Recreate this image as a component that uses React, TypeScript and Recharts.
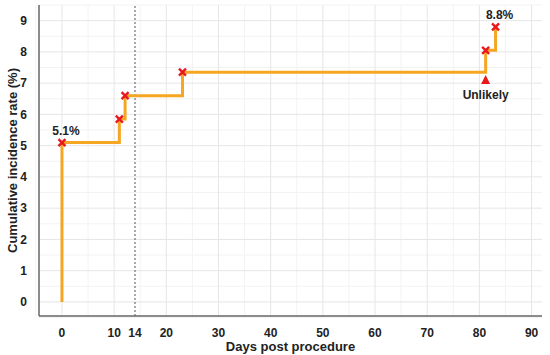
import {
  ComposedChart,
  Line,
  Scatter,
  XAxis,
  YAxis,
  CartesianGrid,
  ReferenceLine,
  ReferenceDot,
} from "recharts";

// event days and cumulative incidence (%)
const days = [0, 0, 11, 12.1, 23.1, 81.2, 83.1];
const rates = [0, 5.1, 5.85, 6.6, 7.35, 8.05, 8.8];

const xTicks = [0, 10, 14, 20, 30, 40, 50, 60, 70, 80, 90];
const xMajorGrid = [0, 10, 20, 30, 40, 50, 60, 70, 80, 90];
const xMinorGrid = [-5, 5, 15, 25, 35, 45, 55, 65, 75, 85];
const yTicks = [0, 1, 2, 3, 4, 5, 6, 7, 8, 9];
const yMinorGrid = [-0.5, 0.5, 1.5, 2.5, 3.5, 4.5, 5.5, 6.5, 7.5, 8.5, 9.5];

const curve = days.map((d, i) => ({ x: d, y: rates[i] }));
const events = curve.slice(1);

const FONT = "'Liberation Sans', Arial, sans-serif";
const ORANGE = "#f5a623";
const RED = "#e8191e";

const Cross = (props: any) => {
  const { cx, cy } = props;
  const s = 3.5;
  return (
    <g stroke={RED} strokeWidth={2.4}>
      <line x1={cx - s} y1={cy - s} x2={cx + s} y2={cy + s} />
      <line x1={cx - s} y1={cy + s} x2={cx + s} y2={cy - s} />
    </g>
  );
};

const Triangle = (props: any) => {
  const { cx, cy } = props;
  return (
    <g>
      <polygon points={`${cx},${cy - 5} ${cx - 4.5},${cy + 4} ${cx + 4.5},${cy + 4}`} fill={RED} />
      <text
        x={cx}
        y={cy + 19}
        textAnchor="middle"
        fontFamily={FONT}
        fontWeight="bold"
        fontSize={12}
        fill="#222"
      >
        Unlikely
      </text>
    </g>
  );
};

const PctLabel = (props: any) => {
  const { cx, cy, text } = props;
  return (
    <text
      x={cx + 4}
      y={cy - 8}
      textAnchor="middle"
      fontFamily={FONT}
      fontWeight="bold"
      fontSize={12}
      fill="#222"
    >
      {text}
    </text>
  );
};

export default function App() {
  const tick = { fill: "#222", fontSize: 12, fontWeight: "bold", fontFamily: FONT };
  return (
    <div style={{ position: "absolute", left: 0, top: 0, background: "#fff" }}>
      <ComposedChart width={550} height={355} margin={{ top: 5, right: 8, bottom: 0, left: 0 }}>
        <CartesianGrid
          stroke="#f3f3f3"
          strokeWidth={1}
          verticalValues={xMinorGrid}
          horizontalValues={yMinorGrid}
        />
        <CartesianGrid
          stroke="#e6e6e6"
          strokeWidth={1}
          verticalValues={xMajorGrid}
          horizontalValues={yTicks}
        />
        <XAxis
          type="number"
          dataKey="x"
          domain={[-4.4, 92]}
          ticks={xTicks}
          allowDataOverflow
          tick={tick}
          tickLine={false}
          axisLine={{ stroke: "#666", strokeWidth: 1.5 }}
          tickMargin={6}
          height={39}
          label={{
            value: "Days post procedure",
            position: "insideBottom",
            offset: 4,
            style: { fill: "#222", fontSize: 13, fontWeight: "bold", fontFamily: FONT },
          }}
        />
        <YAxis
          type="number"
          dataKey="y"
          domain={[-0.45, 9.5]}
          ticks={yTicks}
          allowDataOverflow
          tick={tick}
          tickLine={false}
          axisLine={{ stroke: "#666", strokeWidth: 1.5 }}
          tickMargin={6}
          width={39}
          label={{
            value: "Cumulative incidence rate (%)",
            angle: -90,
            position: "insideLeft",
            offset: 12,
            style: {
              textAnchor: "middle",
              fill: "#222",
              fontSize: 13,
              fontWeight: "bold",
              fontFamily: FONT,
            },
          }}
        />
        <ReferenceLine x={14} stroke="#555" strokeDasharray="2 2" strokeWidth={1} />
        <Line
          data={curve}
          dataKey="y"
          type="stepAfter"
          stroke={ORANGE}
          strokeWidth={3}
          dot={false}
          activeDot={false}
          isAnimationActive={false}
        />
        <Scatter data={events} dataKey="y" shape={<Cross />} isAnimationActive={false} />
        <ReferenceDot
          x={days[1]}
          y={rates[1]}
          r={0}
          shape={(p: any) => <PctLabel {...p} text="5.1%" />}
        />
        <ReferenceDot
          x={days[6]}
          y={rates[6]}
          r={0}
          shape={(p: any) => <PctLabel {...p} text="8.8%" />}
        />
        <ReferenceDot x={days[5]} y={7.1} r={0} shape={(p: any) => <Triangle {...p} />} />
      </ComposedChart>
    </div>
  );
}
